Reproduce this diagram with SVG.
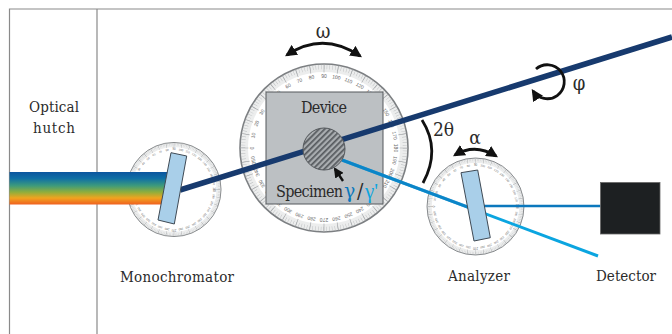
<svg xmlns="http://www.w3.org/2000/svg" xmlns:xlink="http://www.w3.org/1999/xlink" width="672" height="334" viewBox="0 0 672 334">
<style>
text{font-family:"DejaVu Serif Condensed","DejaVu Serif","Liberation Serif",serif;fill:#2b2b2b}
.lab{font-size:15px;text-anchor:middle}
.sc text{font-family:"Liberation Sans",sans-serif;font-size:5px;fill:#666;text-anchor:middle}
.frame{stroke:#8a8a8a;stroke-width:1.2;fill:none}
.arc{fill:none;stroke:#111;stroke-width:2.8}
.mono{fill:#a9cfe9;stroke:#3f4a55;stroke-width:1}
</style>
<defs>
<linearGradient id="rainbow" x1="0" y1="0" x2="0" y2="1">
<stop offset="0" stop-color="#0b559f"/><stop offset=".2" stop-color="#0f6fa5"/><stop offset=".42" stop-color="#3d9a7c"/><stop offset=".62" stop-color="#8fae3c"/><stop offset=".8" stop-color="#f0a41f"/><stop offset="1" stop-color="#f0601f"/>
</linearGradient>
<pattern id="hatch" width="4" height="4" patternUnits="userSpaceOnUse" patternTransform="rotate(-45)">
<rect width="4" height="4" fill="#a9adb0"/><rect width="4" height="1.7" fill="#55595d"/>
</pattern>
<marker id="head" viewBox="0 0 10 10" refX="8" refY="5" markerWidth="4.2" markerHeight="4.2" orient="auto-start-reverse"><path d="M0 0L10 5L0 10Z" fill="#111"/></marker>
<g id="scale" class="sc">
<circle r="84" fill="#eceded" stroke="#7c7f82" stroke-width="1.6"/>
<circle r="76" fill="#fff"/>
<circle r="81" pathLength="360" fill="none" stroke="#b5b8ba" stroke-width="4.5" stroke-dasharray=".3 1.7"/>
<circle r="79.5" pathLength="360" fill="none" stroke="#a0a3a6" stroke-width="8" stroke-dasharray=".45 9.55" stroke-dashoffset=".22"/>
<text transform="rotate(-90)" y="-70">0</text><text transform="rotate(-80)" y="-70">10</text><text transform="rotate(-70)" y="-70">20</text><text transform="rotate(-60)" y="-70">30</text><text transform="rotate(-50)" y="-70">40</text><text transform="rotate(-40)" y="-70">50</text><text transform="rotate(-30)" y="-70">60</text><text transform="rotate(-20)" y="-70">70</text><text transform="rotate(-10)" y="-70">80</text><text y="-70">90</text><text transform="rotate(10)" y="-70">100</text><text transform="rotate(20)" y="-70">110</text><text transform="rotate(30)" y="-70">120</text><text transform="rotate(40)" y="-70">130</text><text transform="rotate(50)" y="-70">140</text><text transform="rotate(60)" y="-70">150</text><text transform="rotate(70)" y="-70">160</text><text transform="rotate(80)" y="-70">170</text><text transform="rotate(90)" y="-70">180</text><text transform="rotate(100)" y="-70">190</text><text transform="rotate(110)" y="-70">200</text><text transform="rotate(120)" y="-70">210</text><text transform="rotate(130)" y="-70">220</text><text transform="rotate(140)" y="-70">230</text><text transform="rotate(150)" y="-70">240</text><text transform="rotate(160)" y="-70">250</text><text transform="rotate(170)" y="-70">260</text><text transform="rotate(180)" y="-70">270</text><text transform="rotate(190)" y="-70">280</text><text transform="rotate(200)" y="-70">290</text><text transform="rotate(210)" y="-70">300</text><text transform="rotate(220)" y="-70">310</text><text transform="rotate(230)" y="-70">320</text><text transform="rotate(240)" y="-70">330</text><text transform="rotate(250)" y="-70">340</text><text transform="rotate(260)" y="-70">350</text>
</g>
</defs>
<rect width="672" height="334" fill="#fff"/>
<g id="frame"><path class="frame" d="M672 9H9.5V334M97 9V334"/></g>
<g id="optical-hutch"><text class="lab" x="54" y="112" textLength="50">Optical</text><text class="lab" x="54" y="133" textLength="42">hutch</text></g>
<g id="device"><use xlink:href="#scale" href="#scale" transform="translate(324 148)"/>
<rect x="266" y="92" width="117" height="112" fill="#bcc0c3" stroke="#55595d" stroke-width="1"/>
<text class="lab" x="324" y="113" style="font-size:16px" textLength="46">Device</text></g>
<g id="monochromator"><use xlink:href="#scale" href="#scale" transform="translate(174 189.5) scale(.56)"/>
<text class="lab" x="177" y="282" textLength="114">Monochromator</text></g>
<g id="analyzer"><use xlink:href="#scale" href="#scale" transform="translate(475.5 206.5) scale(.577)"/>
<text class="lab" x="479" y="281" textLength="62">Analyzer</text></g>
<g id="connectors">
<rect x="9.5" y="172" width="160" height="32.5" fill="url(#rainbow)"/>
<path d="M180 190L672 37" stroke="#173a6e" stroke-width="5.5" fill="none"/>
<path d="M342 160L598 256" stroke="#0ba5e0" stroke-width="3" fill="none"/>
<path d="M342 160L469 207.5" stroke="#0b78bd" stroke-width="3" fill="none" stroke-opacity=".7"/>
<path d="M483 206H600.5" stroke="#0b78bd" stroke-width="2.4" fill="none"/>
<path d="M343 181L335 169" stroke="#111" stroke-width="2.4" fill="none" marker-end="url(#head)"/>
</g>
<g id="monochromator-crystal"><path class="mono" d="M171 152.7L186.7 156L174.3 224L158 220Z"/></g>
<g id="analyzer-crystal"><path class="mono" d="M461 172.7L477.7 170L490.3 237.7L474 241Z"/></g>
<g id="specimen"><circle cx="324" cy="149" r="21" fill="url(#hatch)" stroke="#55595d" stroke-width="1"/>
<text x="276" y="197" style="font-size:16px" textLength="67">Specimen</text>
<text x="344" y="198" style="font-size:21px;fill:#0b78bd">γ</text>
<text x="357" y="198" style="font-size:21px">/</text>
<text x="365" y="198" style="font-size:21px;fill:#0ba5e0;font-family:'Liberation Serif',serif">γ'</text></g>
<g id="detector"><rect x="600.5" y="182.5" width="59.5" height="51.5" fill="#1d2022" stroke="#666" stroke-width=".8"/>
<text class="lab" x="626" y="281" textLength="60">Detector</text></g>
<g id="omega"><path class="arc" d="M287 55Q323 31 360 56" marker-start="url(#head)" marker-end="url(#head)"/><text x="323" y="38" text-anchor="middle" style="font-size:20px">ω</text></g>
<g id="two-theta"><path class="arc" d="M422 120Q441 150 423 183"/><text x="433" y="136" style="font-size:19px">2θ</text></g>
<g id="alpha"><path class="arc" d="M455 155Q475 143 496 156" stroke-width="2.2" marker-start="url(#head)" marker-end="url(#head)"/><text x="475" y="144" text-anchor="middle" style="font-size:19px">α</text></g>
<g id="phi"><path class="arc" d="M536 69A17 17 0 1 1 533 91" marker-end="url(#head)"/><text x="579" y="90" text-anchor="middle" style="font-size:20px">φ</text></g>
</svg>
